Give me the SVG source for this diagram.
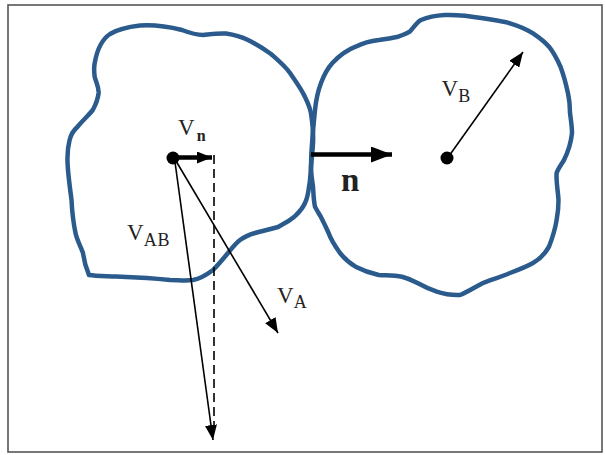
<svg xmlns="http://www.w3.org/2000/svg" width="606" height="455" viewBox="0 0 606 455">
<style>
.blob{fill:none;stroke:#2b5b8c;stroke-width:4.5;stroke-linejoin:round}
.thin{stroke:#000;stroke-width:1.6;fill:none}
.thick{stroke:#000;stroke-width:4.5;fill:none}
.lbl{font-family:"Liberation Serif","Times New Roman",serif;fill:#222}
.sub{font-size:18px}
</style>
<defs>
<marker id="ah" markerUnits="userSpaceOnUse" markerWidth="16" markerHeight="12" refX="15" refY="6" orient="auto">
<path d="M0,0 L15,6 L0,12 Z" fill="#000"/>
</marker>
<marker id="ahb" markerUnits="userSpaceOnUse" markerWidth="22" markerHeight="16" refX="21" refY="8" orient="auto">
<path d="M0,0 L21,8 L0,16 Z" fill="#000"/>
</marker>
</defs>
<rect x="8" y="5" width="594" height="447" fill="#fff" stroke="#555" stroke-width="1.6"/>
<g id="bodyA">
<path class="blob" d="M94.7,63 C97,50 101,40 110,34 C118,29 127,27 140,25.5 C155,24.5 170,27 182,30 C190,33 196,35 203,35 C212,34 218,33 226,33.5 C236,35 242,37 248,40 C258,45 264,49 271,54 C279,61 285,66 290,73 C297,83 302,90 305,97 C309,105 311,110 311.5,117 C313,128 313.5,135 313,143 C312.5,152 311.5,160 311,167 C310.5,176 310,182 309,187 C308,195 307,199 305,203 C302,210 298,213 294,217 C288,222 283,224 278,227 C268,230 262,231 255,233 C248,235 244,237 240,240 C235,244 232,248 228,253 C223,259 218,265 213,270 C205,276 199,279 193,280 C185,281 178,280 170,280 C160,279 154,278.5 147,278 C135,277.5 125,277 116,276.5 C105,276 96,276 89,275 C86,268 84,261 83,253 C80,245 77,240 75.5,233 C73,221 72,210 71.5,200 C70,188 68.5,178 67.8,167 C67,157 67.5,148 69.6,140 C71,134 74,130 77.3,127 C83,120 88,116 92.8,110 C96,104 98,99 98.6,93 C99,87 96,82 94.7,77 C94,72 94,67 94.7,63 Z"/>
<circle cx="173" cy="158" r="6.5" fill="#000"/>
</g>
<g id="bodyB">
<path class="blob" d="M315,110 C316,100 318,91 321,83 C324,75 327,69 332.4,63 C340,55 347,50 355.6,46.7 C363,43 370,41 378.8,40 C386,39 392,38 398,36.7 C403,35 406,34 409.7,31.7 C414,27 417,22 421,20 C428,17 436,15.5 444.5,15 C458,14.5 470,16 483,18.3 C493,20 502,21 510,23.3 C519,26 526,29 533,33.3 C540,38 545,42 549,46.7 C554,53 557,59 560.5,66.7 C564,76 566,84 568,93.3 C569.5,100 570,107 570,113 C571,120 572,127 572,133 C571,143 568,152 564,160 C561,165 558,169 556.6,173 C556,182 558,191 558.5,200 C558.5,207 558,213 556.6,220 C555,230 552,239 549,246.7 C545,254 540,259 533,263 C526,267 518,270 510,273 C500,277 491,280 483,283 C475,287 468,292 460,295 C452,295.5 444,294 436.8,291.7 C429,289 423,286 417.5,283 C412,280 407,278 402,276.7 C394,275.5 386,275.5 378.8,275 C370,273 362,270 355.6,266.7 C348,262 344,258 340,253 C335,246 331,240 328.6,233 C326,227 323,221 320.8,216.7 C318,212 316,209 315,206.7 C313.5,200 313.5,193 313,186.7 C312,180 311,173 311,166.7 C311,158 311.5,149 312.3,140 C313,130 314,120 315,110 Z"/>
<circle cx="447" cy="158" r="6.5" fill="#000"/>
</g>
<g id="connectors">
<line class="thick" x1="311" y1="154.5" x2="392" y2="154.5" marker-end="url(#ahb)"/>
<line class="thick" x1="175" y1="157.5" x2="212" y2="157.5" stroke-width="4" marker-end="url(#ah)"/>
<line class="thin" x1="214" y1="155" x2="214" y2="426" stroke-width="2.6" stroke-dasharray="9,5"/>
<line class="thin" x1="175" y1="162" x2="213" y2="440" marker-end="url(#ah)"/>
<line class="thin" x1="176" y1="161" x2="278" y2="333" marker-end="url(#ah)"/>
<line class="thin" x1="449" y1="156" x2="523" y2="52" marker-end="url(#ah)"/>
</g>
<g id="labels">
<text class="lbl" x="178" y="135" font-size="23">V<tspan font-size="16" font-weight="bold" dx="2" dy="6">n</tspan></text>
<text class="lbl" x="127" y="240" font-size="23">V<tspan class="sub" dy="6" letter-spacing="1">AB</tspan></text>
<text class="lbl" x="277" y="302.5" font-size="23">V<tspan class="sub" dy="5.5">A</tspan></text>
<text class="lbl" x="441.5" y="96" font-size="23">V<tspan class="sub" dy="5.5">B</tspan></text>
<text class="lbl" x="341" y="191" font-size="33" font-weight="bold" fill="#000">n</text>
</g>
</svg>
